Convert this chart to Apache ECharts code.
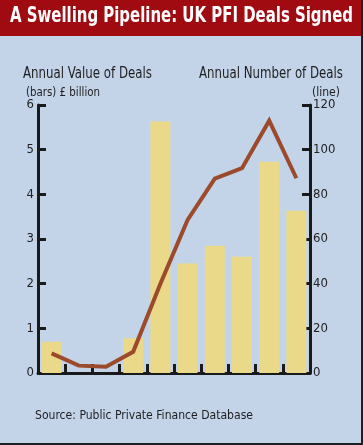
<!DOCTYPE html>
<html><head><meta charset="utf-8">
<script src="https://cdn.jsdelivr.net/npm/echarts@6/dist/echarts.min.js"></script>
<style>html,body{margin:0;padding:0;background:#c3d4e9;}#c{width:363px;height:445px;}</style>
</head><body><div id="c"></div>
<script>
var categories = ['1','2','3','4','5','6','7','8','9','10'];
var dealValues = [0.70, 0, 0, 0.78, 5.63, 2.45, 2.85, 2.60, 4.73, 3.63];
var dealCounts = [8.8, 3.3, 2.8, 9.5, 40, 68.5, 87, 91.7, 113, 87.2];
var leftTicks = [0, 6, 1];
var rightTicks = [0, 120, 20];

var F = "'DejaVu Sans Condensed','Liberation Sans',sans-serif";
var mctx = document.createElement('canvas').getContext('2d');
function fitText(text, font, x, y, w, color) {
  mctx.font = font;
  var s = w / mctx.measureText(text).width;
  return {type:'text', x:x, y:y, scaleX:s, style:{text:text, fill:color, font:font, textBaseline:'top'}};
}
var chart = echarts.init(document.getElementById('c'), null, {renderer:'canvas'});
chart.setOption({
  backgroundColor: '#c3d4e9',
  animation: false,
  graphic: [
    {type:'rect', shape:{x:0,y:0,width:363,height:36}, style:{fill:'#a00b12'}, z:-1},
    {type:'rect', shape:{x:361,y:0,width:2,height:445}, style:{fill:'#1c1f26'}},
    {type:'rect', shape:{x:0,y:443,width:363,height:2}, style:{fill:'#1c1f26'}},
    fitText('A Swelling Pipeline: UK PFI Deals Signed', 'bold 21px ' + F, 10, 6, 343, '#ffffff'),
    fitText('Annual Value of Deals', '15px ' + F, 23, 67, 129, '#1e1e1e'),
    fitText('(bars) £ billion', '12px ' + F, 26, 87, 74, '#1e1e1e'),
    fitText('Annual Number of Deals', '15px ' + F, 199, 67, 144, '#1e1e1e'),
    fitText('(line)', '12px ' + F, 312, 87, 28, '#1e1e1e'),
    fitText('Source: Public Private Finance Database', '13px ' + F, 35, 409, 218, '#1e1e1e')
  ],
  grid: {left:38, right:53, top:105, bottom:72, containLabel:false},
  xAxis: {
    type:'category', data: categories,
    axisLine:{show:true, lineStyle:{color:'#1a1a1a', width:3}},
    axisTick:{show:true, inside:true, length:9, lineStyle:{color:'#1a1a1a', width:3}},
    axisLabel:{show:false}, splitLine:{show:false}
  },
  yAxis: [
    {type:'value', min:leftTicks[0], max:leftTicks[1], interval:leftTicks[2], position:'left',
     axisLine:{show:true, lineStyle:{color:'#1a1a1a', width:3}},
     axisTick:{show:true, inside:true, length:8, lineStyle:{color:'#1a1a1a', width:3}},
     axisLabel:{margin:4, color:'#222', fontSize:13, fontFamily:F},
     splitLine:{show:false}},
    {type:'value', min:rightTicks[0], max:rightTicks[1], interval:rightTicks[2], position:'right',
     axisLine:{show:true, lineStyle:{color:'#1a1a1a', width:3}},
     axisTick:{show:true, inside:true, length:8, lineStyle:{color:'#1a1a1a', width:3}},
     axisLabel:{margin:3, color:'#222', fontSize:13, fontFamily:F},
     splitLine:{show:false}}
  ],
  series: [
    {type:'bar', data: dealValues, yAxisIndex:0, barWidth:20, itemStyle:{color:'#ebd98a'}, z:1},
    {type:'line', data: dealCounts, yAxisIndex:1, showSymbol:false, symbol:'none',
     lineStyle:{color:'#9c4a2c', width:4, join:'miter'}, z:3}
  ]
});
</script></body></html>
